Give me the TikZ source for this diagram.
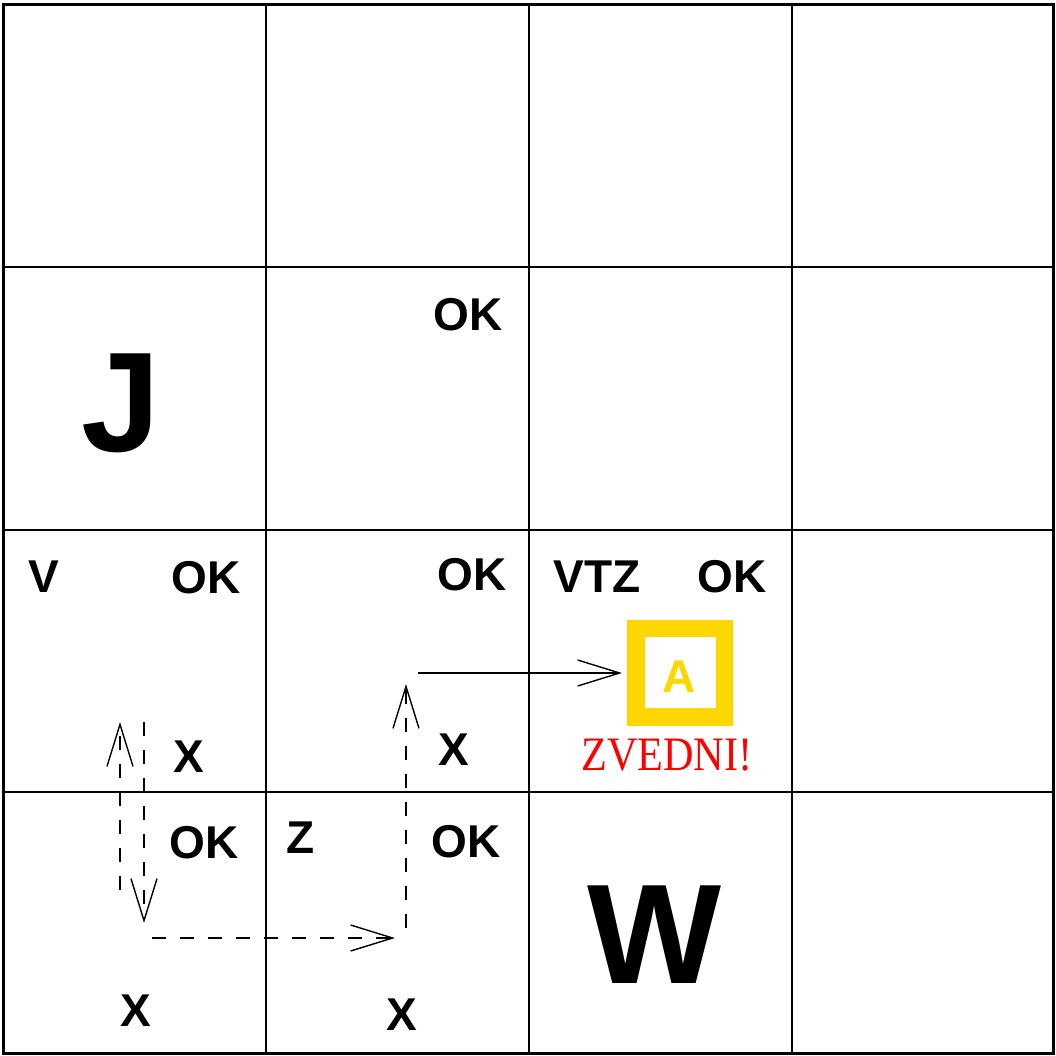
\documentclass[tikz,border=0pt]{standalone}
\usepackage{fontspec}
\usepackage{graphicx}
\usetikzlibrary{arrows.meta}
\newfontfamily\hvfont{Liberation Sans}
\newfontfamily\tmfont{Liberation Serif}
\definecolor{goldc}{HTML}{FFD700}
\tikzset{
  lbl/.style={anchor=base, inner sep=0pt, font=\hvfont\bfseries\fontsize{46}{50}\selectfont},
  big/.style={anchor=base, inner sep=0pt, font=\hvfont\bfseries\fontsize{142}{150}\selectfont},
  gridln/.style={line width=2pt},
  border/.style={line width=3pt},
  tip/.style={-{Straight Barb[length=42pt,width=26pt]}},
  mv/.style={line width=1.4pt, dash pattern=on 14pt off 14pt, tip},
  go/.style={line width=1.4pt, tip},
}
\begin{document}
\begin{tikzpicture}[x=1pt,y=-1pt]
\useasboundingbox[fill=white] (0,0) rectangle (1055,1056);
% grid
\foreach \x in {266,529,791.5} \draw[gridln] (\x,5) -- (\x,1053);
\foreach \y in {267,529.5,792} \draw[gridln] (3.5,\y) -- (1053.5,\y);
\draw[border] (3.5,5) rectangle (1053.5,1053);
% labels
\node[big] (J) at (121,451) {J};
\node[big] (W) at (655,983) {W};
\node[lbl] (ok11) at (468,330) {OK};
\node[lbl] (V) at (44,592) {V};
\node[lbl] (ok02) at (206,593) {OK};
\node[lbl] (ok12) at (472,590) {OK};
\node[lbl] (vtz) at (597,592) {VTZ};
\node[lbl] (ok22) at (732,592) {OK};
\node[lbl] (x02) at (189,772) {X};
\node[lbl] (x12) at (454,765) {X};
\node[lbl] (ok03) at (204,858) {OK};
\node[lbl] (Z) at (301,853) {Z};
\node[lbl] (ok13) at (466,857) {OK};
\node[lbl] (x03) at (136,1026) {X};
\node[lbl] (x13) at (402,1030) {X};
% gold box
\node[draw=goldc, line width=17.5pt, minimum size=88.5pt, inner sep=0pt] (abox) at (680,672.5) {};
\node[lbl, text=goldc] (A) at (679,692) {A};
\node[anchor=base, inner sep=0pt, text=red, font=\tmfont\fontsize{48}{52}\selectfont] (zv) at (667,770) {\scalebox{0.88}[1]{ZVEDNI!}};
% path coordinates
\coordinate (p1) at (120,890);
\coordinate (p2) at (120,722);
\coordinate (p3) at (144,722);
\coordinate (p4) at (144,923);
\coordinate (p5) at (152,938);
\coordinate (p6) at (395,938);
\coordinate (p7) at (406,928);
\coordinate (p8) at (406,684);
\coordinate (p9) at (418,673);
\draw[mv] (p1) -- (p2);
\draw[mv] (p3) -- (p4);
\draw[mv] (p5) -- (p6);
\draw[mv] (p7) -- (p8);
\draw[go, shorten >=5pt] (p9) -- (p9 -| abox.west);
\end{tikzpicture}
\end{document}
